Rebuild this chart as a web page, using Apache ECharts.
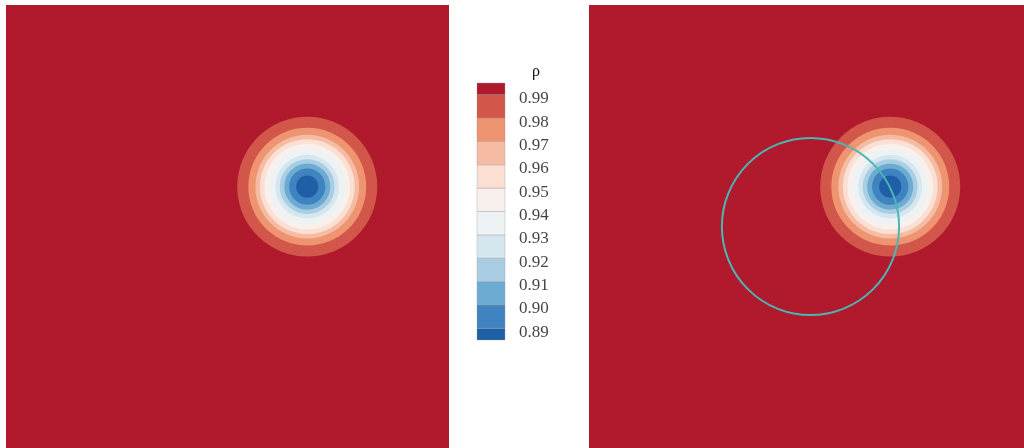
<!DOCTYPE html>
<html>
<head>
<meta charset="utf-8">
<style>
  html, body { margin: 0; padding: 0; background: #ffffff; }
  #chart { width: 1024px; height: 448px; }
</style>
<script src="https://cdn.jsdelivr.net/npm/echarts@6/dist/echarts.min.js"></script>
</head>
<body>
<div id="chart"></div>
<script>
// Contour levels of density (legend tick values)
const levels = [0.89, 0.90, 0.91, 0.92, 0.93, 0.94, 0.95, 0.96, 0.97, 0.98, 0.99];
// Fill colours, from the band below 0.89 up to the band above 0.99
const bandColors = ['#1f5fa6', '#3f84c0', '#6dabd3', '#a9cee3', '#d5e6ef', '#edf2f5',
                    '#f8f0ec', '#fbdfd2', '#f6bca3', '#ef9470', '#d2574a', '#b01a2c'];
// Radius (domain units) at which the vortex density reaches each level
const levelRadii = [0.25, 0.41, 0.52, 0.62, 0.72, 0.85, 0.97, 1.07, 1.17, 1.33, 1.58];
// Vortex core position in the [0,10] x [0,10] domain
const vortexCenter = [6.8, 5.9];
// Reference circle drawn on the right panel
const refCircle = { center: [5, 5], radius: 2.0 };
const domain = [0, 10];
// The right panel is cut off by the page edge: visible x range only
const rightPanelX = [0, 9.82];

const serif = '"Liberation Serif", "DejaVu Serif", serif';

// Filled contour discs, largest (outermost level) first
const ringData = levels.map((lv, i) => [vortexCenter[0], vortexCenter[1], levelRadii[i], i])
  .sort((a, b) => b[2] - a[2]);

function renderRing(params, api) {
  const c = api.coord([api.value(0), api.value(1)]);
  const s = api.size([api.value(2), api.value(2)]);
  return {
    type: 'circle',
    shape: { cx: c[0], cy: c[1], r: s[1] },
    style: { fill: bandColors[api.value(3)] }
  };
}

function renderRefCircle(params, api) {
  const c = api.coord([api.value(0), api.value(1)]);
  const s = api.size([api.value(2), api.value(2)]);
  return {
    type: 'circle',
    shape: { cx: c[0], cy: c[1], r: s[1] },
    style: { fill: 'none', stroke: '#4ab6b6', lineWidth: 2 }
  };
}

// Colour bar bands: [lower, upper, colour index]
const cbLow = levels[0] - 0.005;
const cbHigh = levels[levels.length - 1] + 0.005;
const bandEdges = [cbLow].concat(levels).concat([cbHigh]);
const barData = bandColors.map((c, i) => [bandEdges[i], bandEdges[i + 1], i]);

function renderBand(params, api) {
  const p1 = api.coord([0, api.value(1)]);
  const p2 = api.coord([1, api.value(0)]);
  return {
    type: 'rect',
    shape: { x: p1[0], y: p1[1], width: p2[0] - p1[0], height: p2[1] - p1[1] },
    style: { fill: bandColors[api.value(2)], stroke: 'rgba(150,150,150,0.6)', lineWidth: 0.6 }
  };
}

const panelBg = bandColors[bandColors.length - 1];
const hiddenAxis = (idx, min, max) => ({ gridIndex: idx, type: 'value', min: min, max: max, show: false });

const chart = echarts.init(document.getElementById('chart'));
chart.setOption({
  animation: false,
  backgroundColor: '#ffffff',
  title: {
    text: 'ρ',
    left: 527, top: 59,
    textStyle: { fontFamily: serif, fontSize: 16, fontWeight: 'normal', color: '#111' }
  },
  grid: [
    { left: 6, top: 5, width: 443, height: 443, show: true, backgroundColor: panelBg, borderWidth: 0 },
    { left: 589, top: 5, right: 0, height: 443, show: true, backgroundColor: panelBg, borderWidth: 0 },
    { left: 477, top: 83, width: 28, height: 257 }
  ],
  xAxis: [hiddenAxis(0, domain[0], domain[1]), hiddenAxis(1, rightPanelX[0], rightPanelX[1]), hiddenAxis(2, 0, 1)],
  yAxis: [hiddenAxis(0, domain[0], domain[1]), hiddenAxis(1, domain[0], domain[1]), hiddenAxis(2, cbLow, cbHigh)],
  series: [
    { type: 'custom', xAxisIndex: 0, yAxisIndex: 0, renderItem: renderRing, data: ringData, encode: { x: 0, y: 1 }, silent: true },
    { type: 'custom', xAxisIndex: 1, yAxisIndex: 1, renderItem: renderRing, data: ringData, encode: { x: 0, y: 1 }, silent: true },
    { type: 'custom', xAxisIndex: 1, yAxisIndex: 1, renderItem: renderRefCircle, z: 5,
      data: [[refCircle.center[0], refCircle.center[1], refCircle.radius]], encode: { x: 0, y: 1 }, silent: true },
    { type: 'custom', xAxisIndex: 2, yAxisIndex: 2, renderItem: renderBand, data: barData, encode: { y: [0, 1] }, silent: true },
    {
      type: 'scatter', xAxisIndex: 2, yAxisIndex: 2, symbolSize: 0, silent: true,
      data: levels.map(v => [1, v]),
      label: {
        show: true, position: 'right', distance: 14, offset: [0, 4],
        formatter: p => p.value[1].toFixed(2),
        fontFamily: serif, fontSize: 17, color: '#111'
      }
    }
  ]
});
</script>
</body>
</html>
